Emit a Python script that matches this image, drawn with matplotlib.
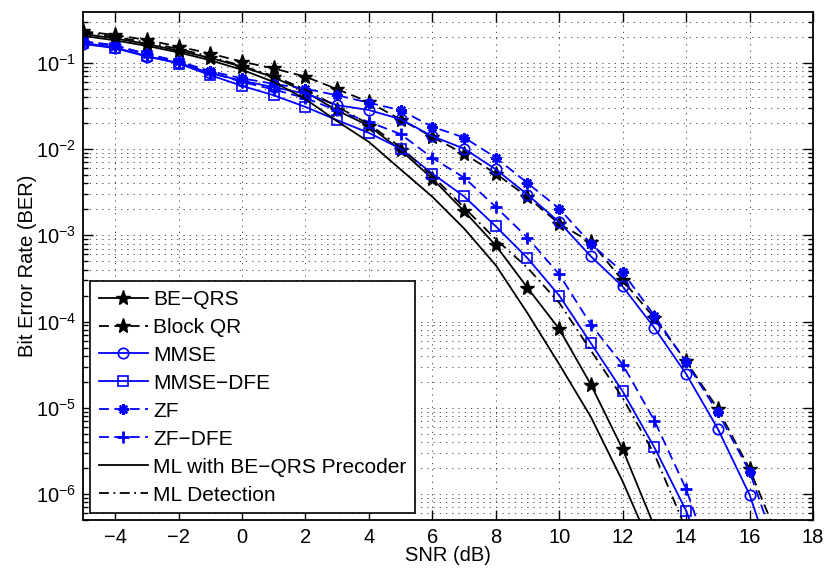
"""BER vs SNR comparison of precoding / detection schemes -> out.png"""
import matplotlib
matplotlib.use("Agg")
import matplotlib.pyplot as plt
import numpy as np

plt.rcParams['font.family'] = ['Liberation Sans', 'DejaVu Sans']
plt.rcParams['mathtext.fontset'] = 'custom'
plt.rcParams['mathtext.rm'] = 'Liberation Sans'
plt.rcParams['mathtext.default'] = 'regular'
plt.rcParams['axes.unicode_minus'] = True

# ── data ────────────────────────────────────────────────────────────────────
snr = np.arange(-5, 18)

ber_beqrs = [0.215, 0.192, 0.165, 0.138, 0.114, 0.09, 0.068, 0.046, 0.028, 0.0186,
             0.0097, 0.00454, 0.00191, 0.000763, 0.000246, 8.2e-5, 1.85e-5, 3.3e-6, 4.2e-7]
ber_blockqr = [0.232, 0.21, 0.184, 0.154, 0.128, 0.103, 0.086, 0.069, 0.0495, 0.035,
               0.022, 0.0138, 0.0088, 0.0052, 0.00278, 0.00136, 0.00083, 0.0003, 0.00011,
               3.46e-5, 9.7e-6, 1.95e-6, 2.5e-7]
ber_mmse = [0.165, 0.148, 0.118, 0.1, 0.076, 0.062, 0.052, 0.044, 0.0323, 0.0283,
            0.0222, 0.0141, 0.0101, 0.00582, 0.00296, 0.00142, 0.000569, 0.000255,
            8.45e-5, 2.47e-5, 5.7e-6, 9.8e-7, 8e-8]
ber_mmse_dfe = [0.17, 0.15, 0.12, 0.098, 0.072, 0.054, 0.042, 0.0308, 0.0216, 0.0154,
                0.0101, 0.00519, 0.00283, 0.00127, 0.000543, 0.0002, 5.6e-5, 1.55e-5,
                3.47e-6, 6.4e-7, 7e-8]
ber_zf = [0.175, 0.158, 0.127, 0.104, 0.08, 0.066, 0.057, 0.05, 0.042, 0.0344,
          0.0282, 0.0181, 0.0136, 0.00796, 0.00403, 0.00204, 0.000798, 0.000374,
          0.000117, 3.37e-5, 8.85e-6, 1.82e-6, 1.6e-7]
ber_zf_dfe = [0.178, 0.16, 0.125, 0.103, 0.077, 0.06, 0.049, 0.039, 0.028, 0.0206,
              0.0149, 0.00788, 0.00467, 0.00213, 0.000937, 0.000352, 9.2e-5, 3.17e-5,
              7.1e-6, 1.14e-6, 1e-7]
ber_ml_prec = [0.205, 0.182, 0.157, 0.132, 0.107, 0.083, 0.06, 0.038, 0.021, 0.0121,
               0.0058, 0.0028, 0.0012, 0.00045, 0.000125, 3.2e-5, 7.8e-6, 1.4e-6, 2e-7]
ber_ml_det = [0.225, 0.2, 0.172, 0.145, 0.118, 0.092, 0.07, 0.049, 0.031, 0.0195,
              0.0105, 0.0049, 0.0021, 0.0009, 0.00042, 0.000165, 4.6e-5, 1.3e-5,
              2.9e-6, 3.9e-7]

labels = ["BE\u2212QRS", "Block QR", "MMSE", "MMSE\u2212DFE", "ZF", "ZF\u2212DFE",
          "ML with BE\u2212QRS Precoder", "ML Detection"]

# ── figure ──────────────────────────────────────────────────────────────────
fig = plt.figure(figsize=(8.25, 5.69), dpi=100)
ax = fig.add_axes([0.101, 0.0861, 0.8845, 0.8923])

LW = 1.3
DASH = (0, (5.5, 3))
DASHDOT = (0, (5.5, 2.5, 1, 2.5))
asterisk = (8, 2, 0)

def n(y):
    return snr[:len(y)]

ax.semilogy(n(ber_beqrs), ber_beqrs, color='k', ls='-', lw=LW, marker='*', ms=11,
            mfc='k', mec='k', label=labels[0])
ax.semilogy(n(ber_blockqr), ber_blockqr, color='k', ls=DASH, lw=LW, marker='*', ms=11,
            mfc='k', mec='k', label=labels[1])
ax.semilogy(n(ber_mmse), ber_mmse, color='b', ls='-', lw=LW, marker='o', ms=7.5,
            mfc='none', mec='b', mew=1.2, label=labels[2])
ax.semilogy(n(ber_mmse_dfe), ber_mmse_dfe, color='b', ls='-', lw=LW, marker='s', ms=7.5,
            mfc='none', mec='b', mew=1.2, label=labels[3])
ax.semilogy(n(ber_zf), ber_zf, color='b', ls=DASH, lw=LW, marker=asterisk, ms=7.5,
            mec='b', mew=1.7, label=labels[4])
ax.semilogy(n(ber_zf_dfe), ber_zf_dfe, color='b', ls=DASH, lw=LW, marker='+', ms=8,
            mec='b', mew=2.0, label=labels[5])
ax.semilogy(n(ber_ml_prec), ber_ml_prec, color='k', ls='-', lw=LW, label=labels[6])
ax.semilogy(n(ber_ml_det), ber_ml_det, color='k', ls=DASHDOT, lw=LW, label=labels[7])

# ── axes styling (MATLAB look) ──────────────────────────────────────────────
ax.set_xlim(-5, 18)
ax.set_ylim(5e-7, 0.385)
ax.set_xticks(np.arange(-4, 19, 2))
ax.set_yticks([1e-6, 1e-5, 1e-4, 1e-3, 1e-2, 1e-1])
ax.yaxis.set_minor_locator(matplotlib.ticker.LogLocator(base=10, subs=np.arange(2, 10),
                                                        numticks=20))
ax.yaxis.set_minor_formatter(matplotlib.ticker.NullFormatter())

ax.tick_params(which='both', direction='in', top=True, right=True, labelsize=14.5,
               colors='k', width=1.0)
ax.tick_params(which='major', length=7)
ax.tick_params(which='minor', length=3.5)
ax.tick_params(axis='y', which='major', pad=5)
ax.tick_params(axis='x', which='major', pad=5.5)
for sp in ax.spines.values():
    sp.set_linewidth(1.3)

grid_kw = dict(color='0.2', lw=0.6, ls=(0, (1.5, 6)))
ax.grid(True, which='major', axis='x', **grid_kw)
ax.grid(True, which='both', axis='y', **grid_kw)
ax.set_axisbelow(True)

ax.set_xlabel("SNR (dB)", fontsize=14.5, labelpad=-0.5)
ax.set_ylabel("Bit Error Rate (BER)", fontsize=14.5, labelpad=-1)

leg = ax.legend(loc='lower left', bbox_to_anchor=(0.0092, 0.0132), borderaxespad=0,
                fontsize=15, handlelength=2.35, handletextpad=0.25, labelspacing=0.43,
                borderpad=0.42, fancybox=False, framealpha=1, edgecolor='k')
leg.get_frame().set_linewidth(1.2)

fig.savefig("out.png", dpi=100, facecolor='white')
